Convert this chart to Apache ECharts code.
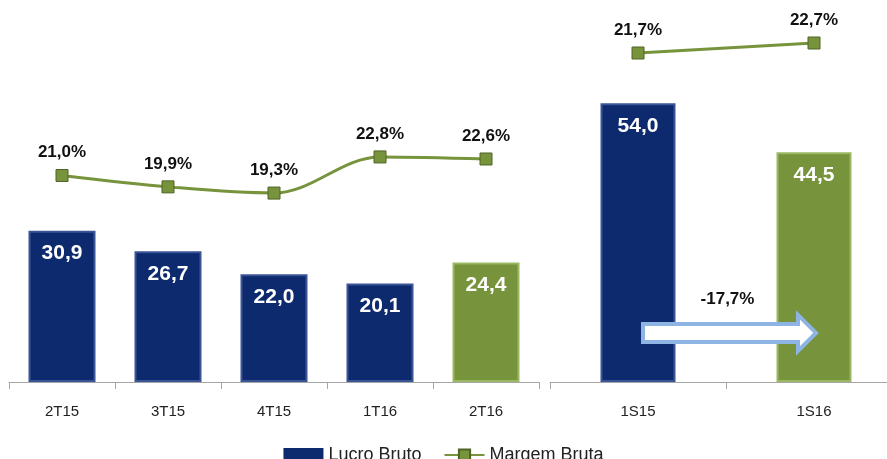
<!DOCTYPE html>
<html>
<head>
<meta charset="utf-8">
<script src="https://cdn.jsdelivr.net/npm/echarts@6/dist/echarts.min.js"></script>
<style>
  html, body { margin: 0; padding: 0; background: #fff; }
  #main { width: 887px; height: 459px; }
</style>
</head>
<body>
<div id="main"></div>
<script>
// quarterly panel
var quarters = ['2T15', '3T15', '4T15', '1T16', '2T16'];
var lucroTri = [30.9, 26.7, 22.0, 20.1, 24.4];
var margemTri = [21.0, 19.9, 19.3, 22.8, 22.6];
// semester panel
var semesters = ['1S15', '1S16'];
var lucroSem = [54.0, 44.5];
var margemSem = [21.7, 22.7];
var variacao = '-17,7%';

var navy = '#0E2A6E';
var green = '#77933C';
var font = '"Liberation Sans Narrow", "Liberation Sans", sans-serif';

function fmt(v) { return v.toFixed(1).replace('.', ','); }

function barItems(vals, greenFrom) {
  return vals.map(function (v, i) {
    var g = i >= greenFrom;
    return {
      value: v,
      itemStyle: {
        color: g ? green : navy,
        borderColor: g ? '#9BB862' : '#3A5496',
        borderWidth: 2
      }
    };
  });
}

var chartDom = document.getElementById('main');
var myChart = echarts.init(chartDom);

var axisCommon = {
  type: 'category',
  axisLine: { lineStyle: { color: '#A6A6A6', width: 1 } },
  axisTick: { show: true, length: 7, lineStyle: { color: '#A6A6A6' } },
  axisLabel: { color: '#222', fontSize: 15, fontFamily: font, margin: 22 }
};

var barLabel = {
  show: true,
  position: 'insideTop',
  distance: 12,
  color: '#fff',
  fontWeight: 'bold',
  fontSize: 21,
  fontFamily: 'sans-serif',
  formatter: function (p) { return fmt(p.value); }
};
var lineLabel = {
  show: true,
  position: 'top',
  distance: 8,
  color: '#111',
  fontWeight: 'bold',
  fontSize: 17,
  fontFamily: 'sans-serif',
  formatter: function (p) { return fmt(p.value) + '%'; }
};
var lineStyleCommon = {
  symbol: 'rect',
  symbolSize: 12,
  itemStyle: { color: green, borderColor: '#4F6425', borderWidth: 1 },
  lineStyle: { color: green, width: 3 }
};

var option = {
  animation: false,
  legend: {
    top: 441,
    left: 'center',
    itemWidth: 40,
    itemHeight: 14,
    itemGap: 22,
    textStyle: { fontSize: 18, fontFamily: font, color: '#222' },
    data: [
      { name: 'Lucro Bruto', icon: 'rect', itemStyle: { color: navy } },
      { name: 'Margem Bruta' }
    ]
  },
  grid: [
    { left: 9, width: 530, top: 0, bottom: 77, containLabel: false, outerBoundsMode: 'none' },
    { left: 550, width: 352, top: 0, bottom: 77, containLabel: false, outerBoundsMode: 'none' }
  ],
  xAxis: [
    Object.assign({ gridIndex: 0, data: quarters }, axisCommon),
    Object.assign({ gridIndex: 1, data: semesters }, axisCommon)
  ],
  yAxis: [
    { gridIndex: 0, type: 'value', min: 0, max: 78, show: false },
    { gridIndex: 0, type: 'value', min: 1, max: 38, show: false },
    { gridIndex: 1, type: 'value', min: 0, max: 74, show: false },
    { gridIndex: 1, type: 'value', min: -11.2, max: 27, show: false }
  ],
  series: [
    {
      name: 'Lucro Bruto', type: 'bar', xAxisIndex: 0, yAxisIndex: 0,
      barWidth: 67, itemStyle: { color: navy },
      label: barLabel, data: barItems(lucroTri, 4)
    },
    Object.assign({
      name: 'Margem Bruta', type: 'line', xAxisIndex: 0, yAxisIndex: 1,
      smooth: 0.35, label: lineLabel, data: margemTri
    }, lineStyleCommon),
    {
      name: 'Lucro Bruto', type: 'bar', xAxisIndex: 1, yAxisIndex: 2,
      barWidth: 75, itemStyle: { color: navy },
      label: barLabel, data: barItems(lucroSem, 1)
    },
    Object.assign({
      name: 'Margem Bruta', type: 'line', xAxisIndex: 1, yAxisIndex: 3,
      label: lineLabel, data: margemSem
    }, lineStyleCommon)
  ]
};
myChart.setOption(option);

// arrow between the two semester bars, placed from the axis scales
var p0 = myChart.convertToPixel({ xAxisIndex: 1, yAxisIndex: 2 }, [0, 9.5]);
var p1 = myChart.convertToPixel({ xAxisIndex: 1, yAxisIndex: 2 }, [1, 9.5]);
var x0 = p0[0] + 5, x1 = p1[0] + 2, y = p0[1];
var headLen = 18, shaft = 9, head = 18;
myChart.setOption({
  graphic: [
    {
      type: 'polygon',
      z: 100,
      shape: {
        points: [
          [x0, y - shaft], [x1 - headLen, y - shaft], [x1 - headLen, y - head],
          [x1, y], [x1 - headLen, y + head], [x1 - headLen, y + shaft], [x0, y + shaft]
        ]
      },
      style: { fill: '#fff', stroke: '#8EB4E3', lineWidth: 4 }
    },
    {
      type: 'text',
      z: 100,
      x: (x0 + x1) / 2 - 2,
      y: y - 34,
      style: {
        text: variacao, fill: '#111', font: 'bold 17px sans-serif',
        textAlign: 'center', textVerticalAlign: 'middle'
      }
    }
  ]
});
</script>
</body>
</html>
